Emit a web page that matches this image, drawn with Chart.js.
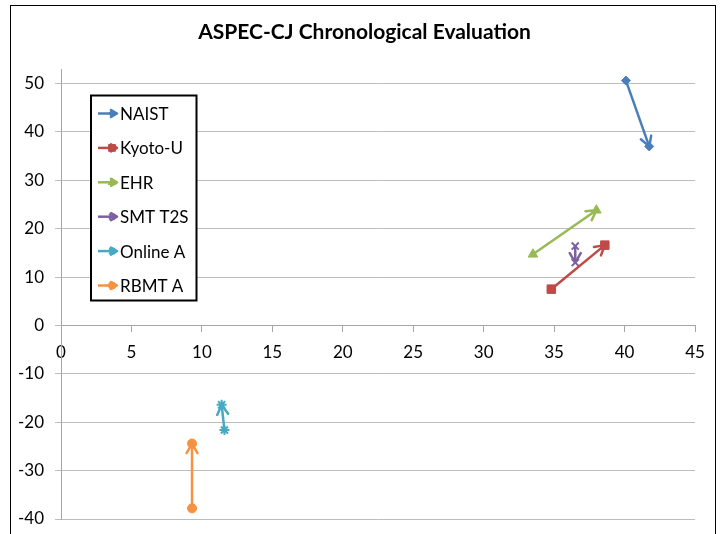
<!DOCTYPE html>
<html>
<head>
<meta charset="utf-8">
<script src="https://cdn.jsdelivr.net/npm/chart.js@4/dist/chart.umd.min.js"></script>
<style>
html,body{margin:0;padding:0;background:#fff;}
#wrap{width:725px;height:534px;position:relative;}
</style>
</head>
<body>
<div id="wrap"><canvas id="c" width="725" height="534"></canvas></div>
<script>
// ---- data ----
const seriesNames = ['NAIST', 'Kyoto-U', 'EHR', 'SMT T2S', 'Online A', 'RBMT A'];
const startX = [40.1, 34.8, 33.5, 36.5, 11.6, 9.3];
const startY = [50.6, 7.5, 14.7, 16.4, -21.6, -37.8];
const endX   = [41.75, 38.6, 38.0, 36.5, 11.4, 9.3];
const endY   = [37.0, 16.6, 23.8, 13.0, -16.4, -24.4];
const xTickValues = [0, 5, 10, 15, 20, 25, 30, 35, 40, 45];
const yTickValues = [-40, -30, -20, -10, 0, 10, 20, 30, 40, 50];
const titleText = 'ASPEC-CJ Chronological Evaluation';

// ---- styles ----
const colors = ['#4A7EBB', '#BE4B48', '#98B954', '#7D60A0', '#46AAC5', '#F69240'];
const markers = ['rectRot', 'rect', 'triangle', 'crossRot', 'star', 'circle'];
const markerSizes = [4.5, 6, 5.5, 5, 5, 4.5];
const FONT = 'Lato, "Open Sans", sans-serif';

const datasets = seriesNames.map((name, i) => ({
  label: name,
  data: [{x: startX[i], y: startY[i]}, {x: endX[i], y: endY[i]}],
  showLine: true,
  borderColor: colors[i],
  backgroundColor: colors[i],
  borderWidth: 2.5,
  pointStyle: markers[i],
  pointRadius: markerSizes[i],
  pointBorderWidth: markers[i] === 'crossRot' || markers[i] === 'star' ? 2 : 1,
  pointBorderColor: colors[i],
  pointBackgroundColor: colors[i]
}));

function drawArrowHead(ctx, x0, y0, x1, y1, color, len) {
  const ang = Math.atan2(y1 - y0, x1 - x0);
  const spread = Math.PI / 6;
  ctx.save();
  ctx.strokeStyle = color;
  ctx.lineWidth = 2.5;
  ctx.lineCap = 'round';
  ctx.lineJoin = 'round';
  ctx.beginPath();
  ctx.moveTo(x1 - len * Math.cos(ang - spread), y1 - len * Math.sin(ang - spread));
  ctx.lineTo(x1, y1);
  ctx.lineTo(x1 - len * Math.cos(ang + spread), y1 - len * Math.sin(ang + spread));
  ctx.stroke();
  ctx.restore();
}

const arrowPlugin = {
  id: 'arrows',
  afterDatasetsDraw(chart) {
    const ctx = chart.ctx;
    chart.data.datasets.forEach((ds, i) => {
      const meta = chart.getDatasetMeta(i);
      const p0 = meta.data[0], p1 = meta.data[1];
      drawArrowHead(ctx, p0.x, p0.y, p1.x, p1.y, ds.borderColor, 11);
    });
  }
};

const frameLegendPlugin = {
  id: 'frameLegend',
  afterLayout(chart) {
    // centre the title over the plot like the original
    if (chart.titleBlock) {
      chart.titleBlock.left = 34;
      chart.titleBlock.right = 695;
    }
  },
  beforeDraw(chart) {
    const ctx = chart.ctx;
    ctx.save();
    ctx.fillStyle = '#fff';
    ctx.fillRect(0, 0, chart.width, chart.height);
    ctx.strokeStyle = '#000';
    ctx.lineWidth = 1;
    ctx.strokeRect(10.5, 5.5, 705, 560);
    ctx.restore();
  },
  afterDraw(chart) {
    const ctx = chart.ctx;
    ctx.save();
    const bx = 91, by = 95.5, bw = 105.5, bh = 205;
    ctx.fillStyle = '#fff';
    ctx.fillRect(bx, by, bw, bh);
    ctx.strokeStyle = '#000';
    ctx.lineWidth = 2;
    ctx.strokeRect(bx, by, bw, bh);
    chart.data.datasets.forEach((ds, i) => {
      const y = 113.5 + i * 34.4;
      ctx.strokeStyle = ds.borderColor;
      ctx.lineWidth = 2.5;
      ctx.beginPath();
      ctx.moveTo(98, y);
      ctx.lineTo(116, y);
      ctx.stroke();
      drawArrowHead(ctx, 98, y, 117, y, ds.borderColor, 7);
      ctx.fillStyle = ds.backgroundColor;
      ctx.strokeStyle = ds.borderColor;
      ctx.lineWidth = ds.pointBorderWidth;
      Chart.helpers.drawPoint(ctx, {
        pointStyle: ds.pointStyle,
        radius: ds.pointRadius * 0.8,
        rotation: 0,
        borderWidth: ds.pointBorderWidth
      }, 112, y);
      ctx.fillStyle = '#000';
      ctx.font = '17px ' + FONT;
      ctx.textBaseline = 'middle';
      ctx.textAlign = 'left';
      ctx.fillText(ds.label, 120, y + 1);
    });
    ctx.restore();
  }
};

new Chart(document.getElementById('c'), {
  type: 'scatter',
  data: { datasets },
  plugins: [frameLegendPlugin, arrowPlugin],
  options: {
    responsive: false,
    animation: false,
    devicePixelRatio: 1,
    layout: { padding: { left: 0, right: 30, top: 0, bottom: 15 } },
    plugins: {
      legend: { display: false },
      tooltip: { enabled: false },
      title: {
        display: true,
        text: titleText,
        color: '#000',
        font: { family: FONT, size: 21, weight: 'bold', lineHeight: 1.2 },
        padding: { top: 19.4, bottom: 24.4 }
      }
    },
    scales: {
      x: {
        type: 'linear',
        position: { y: 0 },
        min: 0, max: 45,
        afterBuildTicks: s => { s.ticks = xTickValues.map(v => ({ value: v })); },
        afterFit: s => { s.paddingTop = 0; s.paddingBottom = 0; },
        ticks: {
          color: '#000',
          font: { family: FONT, size: 17 },
          padding: 11,
          maxRotation: 0,
          autoSkip: false
        },
        grid: {
          drawOnChartArea: false,
          drawTicks: true,
          tickLength: 6,
          color: '#A6A6A6'
        },
        border: { display: true, color: '#A6A6A6', width: 1 }
      },
      y: {
        type: 'linear',
        min: -40, max: 53,
        afterBuildTicks: s => { s.ticks = yTickValues.map(v => ({ value: v })); },
        afterFit: s => { s.width = 61; s.paddingTop = 0; s.paddingBottom = 0; },
        ticks: {
          color: '#000',
          font: { family: FONT, size: 17 },
          padding: 11,
          autoSkip: false
        },
        grid: {
          color: '#BDBDBD',
          lineWidth: 1,
          tickLength: 6
        },
        border: { display: true, color: '#A6A6A6', width: 1 }
      }
    }
  }
});
</script>
</body>
</html>
